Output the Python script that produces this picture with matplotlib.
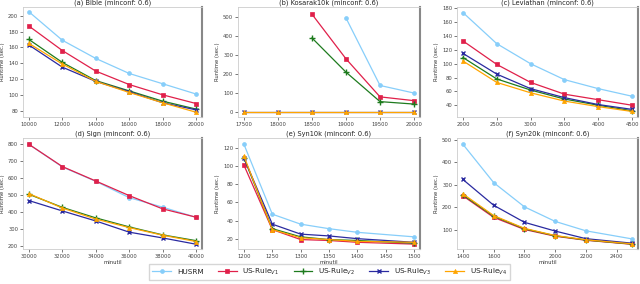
import matplotlib
matplotlib.use("Agg")
import matplotlib.pyplot as plt

series_names = ["HUSRM", "US-Rule$_{V1}$", "US-Rule$_{V2}$", "US-Rule$_{V3}$", "US-Rule$_{V4}$"]

# (a) Bible
bible_x = [10000, 12000, 14000, 16000, 18000, 20000]
bible_husrm = [205, 169, 146, 127, 114, 101]
bible_v1 = [187, 156, 130, 113, 100, 89]
bible_v2 = [170, 141, 118, 105, 92, 82]
bible_v3 = [163, 135, 117, 104, 90, 81]
bible_v4 = [165, 139, 117, 103, 90, 78]

# (b) Kosarak10k
kos_x = [17500, 18000, 18500, 19000, 19500, 20000]
kos_husrm = [None, None, None, 495, 140, 100]
kos_v1 = [None, None, 515, 280, 80, 60]
kos_v2 = [None, None, 390, 210, 55, 42]
kos_v3 = [0.5, 0.5, 0.5, 0.5, 0.5, 0.5]
kos_v4 = [0.5, 0.5, 0.5, 0.5, 0.5, 0.5]

# (c) Leviathan
lev_x = [2000, 2500, 3000, 3500, 4000, 4500]
lev_husrm = [174, 129, 100, 77, 64, 53]
lev_v1 = [133, 99, 73, 56, 48, 40]
lev_v2 = [109, 78, 62, 49, 40, 32]
lev_v3 = [115, 85, 64, 51, 41, 34]
lev_v4 = [104, 73, 58, 46, 38, 31]

# (d) Sign
sign_x = [30000, 32000, 34000, 36000, 38000, 40000]
sign_husrm = [800, 667, 582, 486, 430, 370]
sign_v1 = [800, 669, 584, 498, 420, 371]
sign_v2 = [506, 429, 367, 314, 267, 233]
sign_v3 = [469, 408, 349, 283, 249, 212]
sign_v4 = [510, 425, 360, 310, 265, 228]

# (e) Syn10k
s10_x = [1200, 1250, 1300, 1350, 1400, 1500]
s10_husrm = [124, 47, 36, 31, 27, 22]
s10_v1 = [101, 30, 19, 18, 16, 14]
s10_v2 = [109, 31, 22, 19, 18, 15]
s10_v3 = [109, 36, 25, 23, 20, 16]
s10_v4 = [111, 30, 21, 19, 17, 16]

# (f) Syn20k
s20_x = [1400, 1600, 1800, 2000, 2200, 2500]
s20_husrm = [481, 310, 202, 137, 95, 59]
s20_v1 = [251, 155, 101, 71, 53, 35]
s20_v2 = [255, 160, 104, 73, 54, 36]
s20_v3 = [324, 209, 133, 94, 60, 40]
s20_v4 = [260, 163, 106, 74, 55, 37]

panels = [
    ("(a) Bible (minconf: 0.6)", bible_x, [bible_husrm, bible_v1, bible_v2, bible_v3, bible_v4],
     list(range(80, 201, 20)), (72, 211), bible_x),
    ("(b) Kosarak10k (minconf: 0.6)", kos_x, [kos_husrm, kos_v1, kos_v2, kos_v3, kos_v4],
     list(range(0, 501, 100)), (-26, 553), kos_x),
    ("(c) Leviathan (minconf: 0.6)", lev_x, [lev_husrm, lev_v1, lev_v2, lev_v3, lev_v4],
     list(range(40, 181, 20)), (23, 182), lev_x),
    ("(d) Sign (minconf: 0.6)", sign_x, [sign_husrm, sign_v1, sign_v2, sign_v3, sign_v4],
     list(range(200, 801, 100)), (184, 837), sign_x),
    ("(e) Syn10k (minconf: 0.6)", s10_x, [s10_husrm, s10_v1, s10_v2, s10_v3, s10_v4],
     list(range(20, 121, 20)), (8.6, 131), [1200, 1250, 1300, 1350, 1400, 1450, 1500]),
    ("(f) Syn20k (minconf: 0.6)", s20_x, [s20_husrm, s20_v1, s20_v2, s20_v3, s20_v4],
     list(range(100, 501, 100)), (14, 509), [1400, 1600, 1800, 2000, 2200, 2400]),
]

colors = ["#87CEFA", "#E0204A", "#1E7B1E", "#2A2AA0", "#FFA500"]
markers = ["o", "s", "+", "x", "^"]
msizes = [2.8, 3.0, 3.8, 3.2, 3.0]

fig = plt.figure(figsize=(6.4, 2.84), dpi=100)
lefts = [23 / 640, 238 / 640, 457 / 640]
widths = [179 / 640, 182 / 640, 181 / 640]
bottoms = [1 - 117 / 284, 1 - 249 / 284]
heights = [110 / 284, 111 / 284]

handles = []
for i, (title, xs, ys_list, yticks, ylim, xticks) in enumerate(panels):
    r, c = divmod(i, 3)
    ax = fig.add_axes([lefts[c], bottoms[r], widths[c], heights[r]])
    for k, ys in enumerate(ys_list):
        px = [x for x, y in zip(xs, ys) if y is not None]
        py = [y for y in ys if y is not None]
        h, = ax.plot(px, py, color=colors[k], marker=markers[k], markersize=msizes[k],
                     linewidth=0.9, markeredgewidth=1.0 if markers[k] in "+x" else 0.5,
                     zorder=2 + k)
        if i == 0:
            handles.append(h)
    ax.set_title(title, fontsize=4.8, pad=2, color="#222222")
    ax.set_yticks(yticks)
    ax.set_ylim(*ylim)
    ax.set_xticks(xticks)
    ax.margins(x=0.035)
    ax.tick_params(labelsize=3.8, length=2, width=0.5, pad=1.5, colors="#444444")
    ax.set_ylabel("Runtime (sec.)", fontsize=3.8, labelpad=2, color="#333333")
    if r == 1:
        ax.set_xlabel("minutil", fontsize=3.8, labelpad=0.5, color="#333333")
    for s in ["top", "bottom", "left"]:
        ax.spines[s].set_color("#cccccc")
        ax.spines[s].set_linewidth(0.6)
    ax.spines["right"].set_color("#888888")
    ax.spines["right"].set_linewidth(1.5)

fig.legend(handles, series_names, loc="center", bbox_to_anchor=(0.515, 0.043), ncol=5,
           fontsize=5.2, frameon=True, handlelength=2.6, columnspacing=2.0,
           borderpad=0.4, edgecolor="#cccccc", fancybox=False, labelcolor="#222222")

fig.savefig("out.png", dpi=100)
